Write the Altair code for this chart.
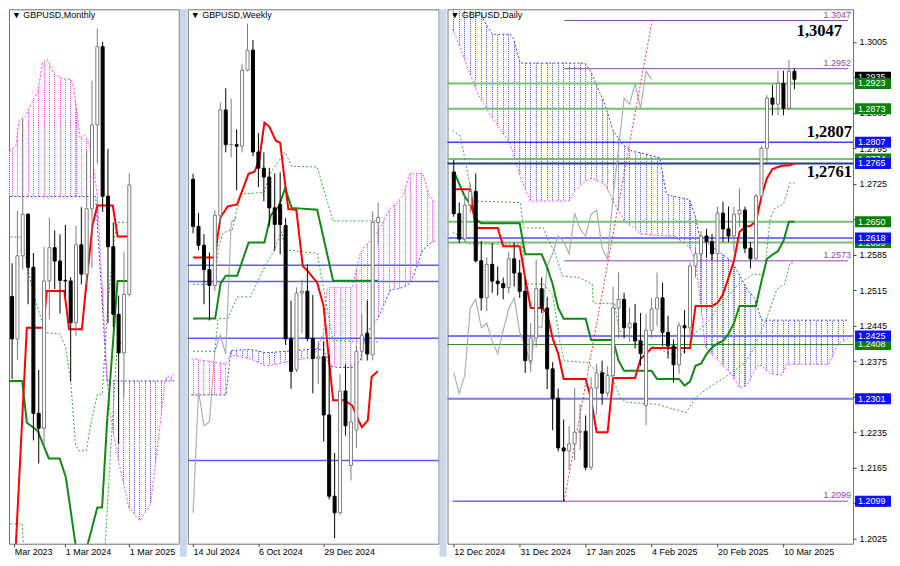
import math
import altair as alt
import pandas as pd

# ======================= DATA =======================
# ---------- Monthly GBPUSD: bar 0 = Apr 2023 ... bar 23 = Mar 2025 ----------
m_open  = [1.2337,1.2573,1.2437,1.2704,1.2837,1.2667,1.2198,1.2150,1.2623,1.2730,1.2687,1.2625,1.2623,1.2489,1.2739,1.2645,1.2855,1.3124,1.3375,1.2895,1.2733,1.2516,1.2392,1.2580]
m_high  = [1.2584,1.2680,1.2849,1.3142,1.2841,1.2713,1.2337,1.2733,1.2827,1.2785,1.2773,1.2803,1.2635,1.2801,1.2860,1.3044,1.3266,1.3434,1.3391,1.3048,1.2811,1.2576,1.2715,1.2969]
m_low   = [1.2275,1.2308,1.2369,1.2659,1.2548,1.2111,1.2037,1.2096,1.2500,1.2597,1.2518,1.2575,1.2300,1.2446,1.2612,1.2615,1.2665,1.3001,1.2845,1.2487,1.2475,1.2099,1.2249,1.2573]
m_close = [1.2573,1.2437,1.2704,1.2837,1.2667,1.2198,1.2150,1.2623,1.2730,1.2687,1.2625,1.2623,1.2489,1.2739,1.2645,1.2855,1.3124,1.3375,1.2895,1.2733,1.2516,1.2392,1.2580,1.2931]
m_ticks = [1.4, 11, 23]
m_tick_labels = ["Mar 2023", "1 Mar 2024", "1 Mar 2025"]
m_tenkan_x = [1.6, 3.77, 6.9, 7.5, 10.8, 11.7, 14.1, 14.96, 16.1, 17.0, 19.9, 20.8, 23.0]
m_tenkan_y = [1.1740, 1.2473, 1.2473, 1.2591, 1.2591, 1.2468, 1.2468, 1.2616, 1.2801, 1.2865, 1.2865, 1.2766, 1.2766]
m_kijun_x = [-0.05, 2.9, 3.77, 5.8, 7.9, 9.94, 11.1, 12.9, 13.3, 14.8, 15.2, 17.0, 17.9, 18.8, 20.8, 23.0]
m_kijun_y = [1.2302, 1.2302, 1.2168, 1.2142, 1.2053, 1.2053, 1.1992, 1.1778, 1.1700, 1.1700, 1.1778, 1.1896, 1.1896, 1.2163, 1.2623, 1.2623]
m_dot1_x = [-0.05, 3.0, 3.5, 5.2, 7.3, 9.94, 11.1, 12.0, 12.9, 13.5, 14.95, 15.8, 17.0, 17.9, 19.0, 20.2, 20.8, 22.6]
m_dot1_y = [1.2764, 1.2764, 1.2698, 1.2569, 1.2457, 1.2453, 1.2409, 1.2302, 1.2099, 1.2078, 1.2078, 1.2164, 1.2259, 1.2259, 1.2550, 1.2762, 1.2811, 1.2811]
m_dot2_x = [-0.05, 2.9, 3.3, 18.3, 19.35, 20.3, 20.8, 22.6]
m_dot2_y = [1.1843, 1.1843, 1.1720, 1.1720, 1.2036, 1.2300, 1.2424, 1.2424]
m_cloud_x = [-0.05, 1.71, 2.30, 3.48, 4.36, 5.83, 6.71, 7.59, 8.77, 10.53, 12.01, 12.59, 13.77, 14.65, 15.53, 16.41, 16.7, 17.0, 18.8, 19.4, 20.2, 21.1, 22.9, 24.95, 27.0, 27.9, 28.8, 29.7, 30.2, 30.8, 31.4]
m_span_a = [1.2894, 1.2894, 1.2894, 1.2894, 1.2894, 1.2894, 1.2894, 1.2894, 1.2894, 1.2894, 1.2894, 1.2894, 1.2894, 1.2894, 1.2894, 1.2894, 1.2894, 1.2809, 1.2302, 1.2302, 1.2302, 1.2302, 1.2302, 1.2302, 1.2302, 1.2302, 1.2302, 1.2302, 1.2302, 1.2302, 1.2302]
m_span_b = [1.3033, 1.3057, 1.3138, 1.3150, 1.3184, 1.3231, 1.3324, 1.3335, 1.3289, 1.3271, 1.3271, 1.3242, 1.3080, 1.3091, 1.3057, 1.2975, 1.2935, 1.2894, 1.2330, 1.2200, 1.2120, 1.2036, 1.1896, 1.1853, 1.1907, 1.2035, 1.2163, 1.2302, 1.2318, 1.2310, 1.2330]

# ---------- Weekly GBPUSD: bar 0 = week of 14 Jul 2024 ... bar 34 = week of 9 Mar 2025 ----------
w_open  = [1.3030,1.2908,1.2859,1.2796,1.2755,1.2937,1.3210,1.3120,1.3120,1.3116,1.3313,1.3365,1.3101,1.3059,1.3036,1.2956,1.2965,1.2910,1.2616,1.2537,1.2735,1.2740,1.2617,1.2565,1.2570,1.2419,1.2208,1.2165,1.2481,1.2288,1.2380,1.2584,1.2631,1.2575,1.2918]
w_high  = [1.3044,1.2943,1.2888,1.2840,1.2950,1.3230,1.3266,1.3239,1.3160,1.3330,1.3434,1.3391,1.3150,1.3100,1.3060,1.3045,1.3048,1.2930,1.2715,1.2750,1.2770,1.2810,1.2730,1.2610,1.2610,1.2575,1.2320,1.2525,1.2550,1.2550,1.2600,1.2680,1.2716,1.2947,1.2969]
w_low   = [1.2890,1.2846,1.2706,1.2664,1.2740,1.2915,1.3100,1.3087,1.3002,1.3100,1.3310,1.3090,1.3010,1.2973,1.2908,1.2845,1.2835,1.2600,1.2487,1.2530,1.2630,1.2610,1.2475,1.2500,1.2350,1.2200,1.2099,1.2160,1.2366,1.2249,1.2333,1.2560,1.2560,1.2560,1.2860]
w_close = [1.2908,1.2859,1.2796,1.2755,1.2937,1.3210,1.3120,1.3120,1.3116,1.3313,1.3365,1.3101,1.3059,1.3036,1.2956,1.2913,1.2913,1.2616,1.2532,1.2735,1.2740,1.2617,1.2565,1.2570,1.2419,1.2208,1.2165,1.2481,1.2391,1.2401,1.2584,1.2626,1.2577,1.2918,1.2931]
w_ticks = [0, 12, 24]
w_tick_labels = ["14 Jul 2024", "6 Oct 2024", "29 Dec 2024"]
w_tenkan_x = [0, 4.06, 4.5, 5.06, 6.35, 8.1, 10.2, 11.3, 12.2, 13.1, 14.0, 15.2, 16.0, 16.92, 17.5, 18.97, 20.15, 21.0, 22.8, 23.97, 24.55, 25.73, 27.8, 29.25, 30.4, 31.0, 32.1, 32.8, 33.95]
w_tenkan_y = [1.2827, 1.2827, 1.2880, 1.2932, 1.2960, 1.2965, 1.3045, 1.3050, 1.3083, 1.3177, 1.3167, 1.3130, 1.3125, 1.3017, 1.2953, 1.2951, 1.2805, 1.2793, 1.2762, 1.2702, 1.2620, 1.2457, 1.2457, 1.2443, 1.2405, 1.2387, 1.2405, 1.2518, 1.2532]
w_kijun_x = [0, 4.06, 5.06, 6.0, 8.1, 10.2, 13.1, 14.28, 15.75, 16.92, 18.1, 22.8, 25.73, 33.95]
w_kijun_y = [1.2669, 1.2669, 1.2760, 1.2780, 1.2780, 1.2866, 1.2866, 1.2937, 1.2960, 1.3007, 1.2956, 1.2951, 1.2767, 1.2767]
w_dot1_x = [0, 4.06, 4.6, 5.5, 7.2, 8.7, 13.0, 14.3, 16.9, 18.1, 22.8, 25.7, 33.95]
w_dot1_y = [1.2758, 1.2758, 1.2850, 1.2891, 1.2900, 1.2992, 1.2996, 1.3050, 1.3100, 1.3064, 1.3062, 1.2922, 1.2922]
w_dot2_x = [0, 4.0, 4.6, 6.35, 8.1, 10.5, 13.4, 14.6, 16.3, 16.9, 22.8, 24.0, 25.7, 33.95]
w_dot2_y = [1.2584, 1.2584, 1.2669, 1.2669, 1.2725, 1.2725, 1.2810, 1.2838, 1.2894, 1.2847, 1.2838, 1.2744, 1.2612, 1.2608]
w_cloud_x = [-0.3, 6.05, 6.93, 10.46, 13.4, 16.92, 22.2, 23.97, 24.55, 25.1, 26.9, 29.25, 30.7, 31.6, 32.77, 33.95, 35.1, 36.3, 37.5, 38.6, 39.8, 40.4, 42.2, 43.35, 44.4]
w_span_a = [1.2471, 1.2471, 1.2586, 1.2589, 1.2580, 1.2584, 1.2590, 1.2588, 1.2570, 1.2545, 1.2542, 1.2542, 1.2560, 1.2622, 1.2650, 1.2669, 1.2706, 1.2744, 1.2746, 1.2750, 1.2760, 1.2777, 1.2847, 1.2862, 1.2871]
w_span_b = [1.2565, 1.2551, 1.2575, 1.2565, 1.2546, 1.2555, 1.2570, 1.2631, 1.2744, 1.2749, 1.2749, 1.2749, 1.2838, 1.2857, 1.2875, 1.2894, 1.2925, 1.2956, 1.2970, 1.2989, 1.3045, 1.3045, 1.3045, 1.2989, 1.2970]
w_blue_levels = [1.2807, 1.2765, 1.2618, 1.2301]

# ---------- Daily GBPUSD: bar 0 = 12 Dec 2024 ... bar 62 = 12 Mar 2025 ----------
d_open  = [1.2748,1.2666,1.2616,1.2683,1.2710,1.2573,1.2500,1.2566,1.2533,1.2528,1.2520,1.2577,1.2549,1.2513,1.2376,1.2421,1.2518,1.2480,1.2360,1.2302,1.2204,1.2198,1.2212,1.2235,1.2237,1.2166,1.2322,1.2352,1.2312,1.2347,1.2480,1.2497,1.2441,1.2450,1.2415,1.2288,1.2436,1.2478,1.2500,1.2432,1.2405,1.2368,1.2445,1.2441,1.2563,1.2587,1.2622,1.2611,1.2587,1.2667,1.2636,1.2622,1.2665,1.2673,1.2598,1.2577,1.2701,1.2795,1.2894,1.2882,1.2923,1.2874,1.2947]
d_high  = [1.2772,1.2688,1.2703,1.2726,1.2745,1.2612,1.2580,1.2608,1.2562,1.2540,1.2590,1.2609,1.2575,1.2536,1.2450,1.2575,1.2540,1.2502,1.2373,1.2321,1.2260,1.2247,1.2322,1.2290,1.2268,1.2343,1.2370,1.2376,1.2365,1.2522,1.2550,1.2510,1.2481,1.2488,1.2470,1.2468,1.2500,1.2550,1.2530,1.2465,1.2418,1.2452,1.2476,1.2570,1.2600,1.2632,1.2636,1.2626,1.2680,1.2690,1.2680,1.2680,1.2716,1.2680,1.2610,1.2705,1.2800,1.2900,1.2920,1.2948,1.2948,1.2969,1.2952]
d_low   = [1.2660,1.2608,1.2610,1.2668,1.2570,1.2475,1.2474,1.2510,1.2505,1.2497,1.2509,1.2522,1.2500,1.2352,1.2354,1.2402,1.2470,1.2320,1.2239,1.2197,1.2099,1.2160,1.2180,1.2200,1.2160,1.2160,1.2270,1.2289,1.2305,1.2340,1.2420,1.2420,1.2414,1.2400,1.2366,1.2249,1.2420,1.2445,1.2405,1.2380,1.2333,1.2350,1.2390,1.2420,1.2540,1.2560,1.2580,1.2575,1.2570,1.2610,1.2610,1.2590,1.2640,1.2588,1.2558,1.2575,1.2690,1.2767,1.2860,1.2860,1.2860,1.2870,1.2912]
d_close = [1.2666,1.2616,1.2683,1.2710,1.2573,1.2500,1.2566,1.2533,1.2528,1.2520,1.2577,1.2549,1.2513,1.2376,1.2421,1.2518,1.2480,1.2360,1.2302,1.2204,1.2198,1.2212,1.2235,1.2237,1.2166,1.2322,1.2352,1.2312,1.2347,1.2480,1.2497,1.2441,1.2450,1.2415,1.2390,1.2436,1.2478,1.2500,1.2432,1.2405,1.2368,1.2445,1.2441,1.2563,1.2587,1.2622,1.2611,1.2587,1.2667,1.2636,1.2622,1.2665,1.2673,1.2598,1.2577,1.2701,1.2795,1.2894,1.2882,1.2923,1.2874,1.2947,1.2931]
d_tenkan = [1.2714,1.2714,1.2714,1.2714,1.2638,1.2638,1.2638,1.2638,1.2638,1.2602,1.2602,1.2602,1.2602,1.2539,1.2480,1.2480,1.2480,1.2470,1.2420,1.2390,1.2340,1.2340,1.2340,1.2340,1.2340,1.2300,1.2235,1.2235,1.2235,1.2342,1.2342,1.2342,1.2342,1.2342,1.2380,1.2390,1.2401,1.2401,1.2401,1.2401,1.2401,1.2401,1.2401,1.2401,1.2484,1.2484,1.2484,1.2484,1.2490,1.2507,1.2540,1.2573,1.2630,1.2640,1.2642,1.2651,1.2700,1.2736,1.2754,1.2758,1.2761,1.2761,1.2765]
d_kijun = [1.2750,1.2725,1.2700,1.2685,1.2655,1.2647,1.2647,1.2647,1.2647,1.2647,1.2647,1.2647,1.2647,1.2586,1.2586,1.2586,1.2586,1.2560,1.2527,1.2480,1.2459,1.2459,1.2459,1.2459,1.2459,1.2417,1.2417,1.2417,1.2417,1.2417,1.2376,1.2356,1.2356,1.2356,1.2356,1.2356,1.2356,1.2340,1.2340,1.2340,1.2340,1.2340,1.2327,1.2335,1.2366,1.2370,1.2389,1.2402,1.2410,1.2415,1.2429,1.2450,1.2484,1.2484,1.2484,1.2484,1.2533,1.2577,1.2585,1.2592,1.2612,1.2650,1.2650]
d_dot1_x = [-0.23, 1.2, 3.5, 12.1, 12.7, 16.3, 17.1, 18.3, 19.8, 22.8, 25.2, 25.4, 29.3, 30.1, 34.5, 41.1, 44.0, 46.5, 48.0, 52.0, 54.6, 56.5, 57.6, 58.5, 60.0, 61.2, 62.0]
d_dot1_y = [1.2830, 1.2819, 1.2691, 1.2688, 1.2638, 1.2638, 1.2616, 1.2592, 1.2543, 1.2540, 1.2527, 1.2490, 1.2488, 1.2435, 1.2412, 1.2382, 1.2431, 1.2455, 1.2480, 1.2529, 1.2547, 1.2545, 1.2657, 1.2677, 1.2685, 1.2726, 1.2726]
d_dot2_x = [-0.23, 3.0, 12.5, 13.0, 16.3, 18.0, 19.4, 20.1, 24.5, 25.5, 28.7, 30.4, 31.6, 37.0, 39.9, 42.3, 44.0, 46.0, 49.7, 53.0, 54.7, 55.6, 57.0, 58.8, 60.2, 61.2, 62.0]
d_dot2_y = [1.2630, 1.2606, 1.2606, 1.2527, 1.2527, 1.2507, 1.2409, 1.2376, 1.2372, 1.2360, 1.2346, 1.2301, 1.2294, 1.2290, 1.2281, 1.2274, 1.2303, 1.2320, 1.2346, 1.2372, 1.2402, 1.2427, 1.2461, 1.2517, 1.2527, 1.2569, 1.2569]
d_cloud_x = [-0.23, 0.5, 3.5, 4.4, 5.6, 7.0, 10.3, 10.9, 12.1, 13.9, 21.0, 22.0, 23.9, 25.0, 25.4, 27.5, 29.0, 30.7, 31.0, 32.5, 34.0, 37.5, 38.7, 40.0, 42.9, 44.0, 44.6, 45.8, 46.4, 50.5, 52.0, 52.9, 53.5, 54.7, 55.6, 56.1, 57.6, 59.8, 60.5, 68.2, 70.0, 71.8]
d_span_a = [1.3120,1.3115,1.3090,1.3070,1.3045,1.3020,1.3020,1.3010,1.2963,1.2963,1.2963,1.2963,1.2963,1.2945,1.2934,1.2882,1.2830,1.2803,1.2800,1.2789,1.2786,1.2776,1.2704,1.2700,1.2694,1.2660,1.2626,1.2612,1.2606,1.2573,1.2545,1.2527,1.2515,1.2500,1.2470,1.2456,1.2456,1.2456,1.2456,1.2456,1.2456,1.2456]
d_span_b = [1.3030,1.3012,1.2927,1.2902,1.2880,1.2855,1.2803,1.2780,1.2740,1.2691,1.2691,1.2711,1.2730,1.2736,1.2735,1.2724,1.2690,1.2660,1.2651,1.2640,1.2626,1.2623,1.2622,1.2622,1.2600,1.2573,1.2520,1.2402,1.2395,1.2350,1.2323,1.2325,1.2330,1.2355,1.2369,1.2365,1.2350,1.2348,1.2369,1.2369,1.2410,1.2420]
d_ticks = [0, 12, 24, 36, 48, 60]
d_tick_labels = ["12 Dec 2024", "31 Dec 2024", "17 Jan 2025", "4 Feb 2025", "20 Feb 2025", "10 Mar 2025"]
d_price_ticks = [1.2025, 1.2095, 1.2165, 1.2235, 1.2305, 1.2375, 1.2445, 1.2515, 1.2585, 1.2655, 1.2725, 1.2795, 1.2865, 1.2935, 1.3005, 1.3075]
d_green_levels = [1.2923, 1.2873, 1.2774, 1.2650, 1.2609]
d_green_thin_levels = [1.2408]
d_blue_levels = [1.2618, 1.2425, 1.2301]
d_blue_mid_levels = [1.2807]
d_navy_levels = [1.2765]
d_purple_levels = [1.3047, 1.2952, 1.2573, 1.2099]
d_purple_from = 20.1
d_blue_low_level = [1.2099]
d_red_dot_x = [20.1, 36.1]
d_red_dot_y = [1.2099, 1.3047]
d_box_black = [1.2935]
d_box_green = [1.2923, 1.2873, 1.2774, 1.2650, 1.2609, 1.2408]
d_box_blue = [1.2807, 1.2765, 1.2618, 1.2425, 1.2301, 1.2099]
d_note_text = ["1,3047", "1,2807", "1,2761"]
d_note_level = [1.3047, 1.2807, 1.2765]

# ======================= LAYOUT =======================
H = 535
W_M, W_W, W_D = 170, 251, 406
M_XDOM, M_YDOM = [1.359, 31.357], [1.17794, 1.34953]
W_XDOM, W_YDOM = [-0.053, 44.17], [1.2085, 1.3471]
D_XDOM, D_YDOM = [-0.23, 71.76], [1.20151, 1.30691]
FONT = "Liberation Sans"


def label_expr(vals, labs):
    expr = "''"
    for v, l in reversed(list(zip(vals, labs))):
        expr = f"datum.value == {v} ? '{l}' : {expr}"
    return expr


def encoders(xdom, ydom, xticks, xlabels, yaxis):
    xs = alt.Scale(domain=xdom, nice=False, zero=False)
    ys = alt.Scale(domain=ydom, nice=False, zero=False)
    xaxis = alt.Axis(values=xticks, labelExpr=label_expr(xticks, xlabels), labelAlign="left",
                     labelPadding=1, tickSize=3, labelFlush=False, labelOverlap=False,
                     labelBound=False, title=None, grid=False, domain=False,
                     labelFontSize=9, labelFont=FONT, tickColor="#444")

    def X(f):
        return alt.X(f, type="quantitative", scale=xs, axis=xaxis)

    def Y(f):
        return alt.Y(f, type="quantitative", scale=ys, axis=yaxis)
    return X, Y


def candles(o, h, l, c, X, Y):
    df = pd.DataFrame({"i": list(range(len(o))), "o": o, "h": h, "l": l, "c": c})
    up = "datum.c >= datum.o"
    wick = alt.Chart(df).mark_rule(strokeWidth=1, clip=True).encode(
        x=X("i"), y=Y("l"), y2=alt.Y2("h"),
        color=alt.condition(up, alt.value("#7c7c7c"), alt.value("#000000")))
    body = alt.Chart(df).mark_bar(size=3, strokeWidth=1, clip=True, orient="vertical").encode(
        x=X("i"), y=Y("o"), y2=alt.Y2("c"),
        fill=alt.condition(up, alt.value("#ffffff"), alt.value("#000000")),
        stroke=alt.condition(up, alt.value("#7c7c7c"), alt.value("#000000")))
    return [wick, body]


def line(xv, yv, X, Y, color, width, dash=None):
    df = pd.DataFrame({"x": xv, "y": yv})
    kw = dict(color=color, strokeWidth=width, clip=True)
    if dash:
        kw["strokeDash"] = dash
    return alt.Chart(df).mark_line(**kw).encode(x=X("x"), y=Y("y"))


def hrules(levels, Y, W, color, width):
    return alt.Chart(pd.DataFrame({"v": levels})).mark_rule(color=color, strokeWidth=width).encode(
        y=Y("v"), x=alt.value(0), x2=alt.value(W))


def hrules_span(levels, x0, x1, X, Y, color, width):
    df = pd.DataFrame({"v": levels, "a": [x0] * len(levels), "b": [x1] * len(levels)})
    return alt.Chart(df).mark_rule(color=color, strokeWidth=width, clip=True).encode(
        y=Y("v"), x=X("a"), x2=alt.X2("b"))


CLEAR = "rgba(255,255,255,0)"


def stripes(rgba, x0, x1, lw_bars):
    """vertical stripes, one per bar (style only)"""
    span = x1 - x0
    half = lw_bars / 2.0 / span
    stops = [(0.0, CLEAR)]
    for k in range(math.ceil(x0), math.floor(x1) + 1):
        c = (k - x0) / span
        lo, hi = max(0.0, c - half), min(1.0, c + half)
        stops += [(lo, CLEAR), (lo, rgba), (hi, rgba), (hi, CLEAR)]
    stops.append((1.0, CLEAR))
    return {"gradient": "linear", "x1": 0, "y1": 0, "x2": 1, "y2": 0,
            "stops": [{"offset": round(o, 6), "color": col} for o, col in stops]}


def dots_mask(height_px, period=2.0):
    """horizontal white stripes that turn the vertical stripes into dotted lines"""
    n = max(1, int(height_px / period))
    stops = []
    for k in range(n):
        a = k / n
        m = (k + 0.5) / n
        b = (k + 1) / n
        stops += [(a, "rgba(255,255,255,0.8)"), (m, "rgba(255,255,255,0.8)"), (m, CLEAR), (b, CLEAR)]
    return {"gradient": "linear", "x1": 0, "y1": 0, "x2": 0, "y2": 1,
            "stops": [{"offset": round(o, 6), "color": col} for o, col in stops]}


def cloud(cx, ca, cb, X, Y, ppb, ppu):
    n = len(cx)
    sign = [a >= b for a, b in zip(ca, cb)]
    runs, cur = [], [0]
    for k in range(1, n):
        cur.append(k)
        if sign[k] != sign[k - 1]:
            runs.append((sign[k - 1], cur))
            cur = [k - 1, k]
    runs.append((sign[n - 1], cur))
    layers = []
    for blue, idx in runs:
        xs_ = [cx[k] for k in idx]
        av = [ca[k] for k in idx]
        bv = [cb[k] for k in idx]
        df = pd.DataFrame({"x": xs_, "a": av, "b": bv})
        col = "rgba(70,70,255,0.8)" if blue else "rgba(255,40,255,0.8)"
        grad = stripes(col, min(xs_), max(xs_), 1.1 / ppb)
        layers.append(alt.Chart(df).mark_area(fill=grad, fillOpacity=1, clip=True).encode(
            x=X("x"), y=Y("a"), y2=alt.Y2("b")))
        hpx = (max(av + bv) - min(av + bv)) * ppu
        layers.append(alt.Chart(df).mark_area(fill=dots_mask(hpx), fillOpacity=1, clip=True).encode(
            x=X("x"), y=Y("a"), y2=alt.Y2("b")))
    layers.append(line(cx, ca, X, Y, "#3b3bff", 1, [2, 2]))
    layers.append(line(cx, cb, X, Y, "#ff3bff", 1, [2, 2]))
    return layers


def title(text):
    return alt.Chart(pd.DataFrame({"t": [text]})).mark_text(
        align="left", baseline="top", fontSize=9, font=FONT, color="black").encode(
        text="t:N", x=alt.value(3), y=alt.value(2))


def separator(W):
    return alt.Chart(pd.DataFrame({"k": [0]})).mark_rect(color="#c9d7ea").encode(
        x=alt.value(W + 1), x2=alt.value(W + 8), y=alt.value(0), y2=alt.value(H + 13))


def boxes(levels, Y, W, fill):
    df = pd.DataFrame({"v": levels})
    box = alt.Chart(df).mark_tick(orient="horizontal", thickness=11, size=36, color=fill, opacity=1).encode(
        y=Y("v"), x=alt.value(W + 20))
    txt = alt.Chart(df).mark_text(align="left", baseline="middle", fontSize=9, font=FONT, color="white").encode(
        y=Y("v"), x=alt.value(W + 5), text=alt.Text("v:Q", format=".4f"))
    return [box, txt]


GREEN, RED = "#108a10", "#ff0000"
DOTG = "#3aa53a"

# ---------------- Monthly panel ----------------
Xm, Ym = encoders(M_XDOM, M_YDOM, m_ticks, m_tick_labels, None)
m_layers = []
m_layers += cloud(m_cloud_x, m_span_a, m_span_b, Xm, Ym,
                  W_M / (M_XDOM[1] - M_XDOM[0]), H / (M_YDOM[1] - M_YDOM[0]))
m_layers += [
    line(m_dot1_x, m_dot1_y, Xm, Ym, DOTG, 1, [2, 2]),
    line(m_dot2_x, m_dot2_y, Xm, Ym, DOTG, 1, [2, 2]),
    line(m_kijun_x, m_kijun_y, Xm, Ym, GREEN, 2),
    line(m_tenkan_x, m_tenkan_y, Xm, Ym, RED, 2),
]
m_layers += candles(m_open, m_high, m_low, m_close, Xm, Ym)
m_layers += [title("\u25bc GBPUSD,Monthly"), separator(W_M)]
monthly = alt.layer(*m_layers).properties(width=W_M, height=H)

# ---------------- Weekly panel ----------------
Xw, Yw = encoders(W_XDOM, W_YDOM, w_ticks, w_tick_labels, None)
w_layers = []
w_layers += cloud(w_cloud_x, w_span_a, w_span_b, Xw, Yw,
                  W_W / (W_XDOM[1] - W_XDOM[0]), H / (W_YDOM[1] - W_YDOM[0]))
w_layers.append(hrules(w_blue_levels, Yw, W_W, "#5b5bff", 1.5))
w_chik_x = [i - 26 for i in range(26, len(w_close))]
w_layers += [
    line(w_chik_x, w_close[26:], Xw, Yw, "#a9b0b8", 1.2),
    line(w_dot1_x, w_dot1_y, Xw, Yw, DOTG, 1, [2, 2]),
    line(w_dot2_x, w_dot2_y, Xw, Yw, DOTG, 1, [2, 2]),
    line(w_kijun_x, w_kijun_y, Xw, Yw, GREEN, 2),
    line(w_tenkan_x, w_tenkan_y, Xw, Yw, RED, 2),
]
w_layers += candles(w_open, w_high, w_low, w_close, Xw, Yw)
w_layers += [title("\u25bc GBPUSD,Weekly"), separator(W_W)]
weekly = alt.layer(*w_layers).properties(width=W_W, height=H)

# ---------------- Daily panel ----------------
d_yaxis = alt.Axis(orient="right", values=d_price_ticks, format=".4f", tickSize=3, labelPadding=3,
                   labelFlush=False, labelOverlap=False, domain=False, grid=False, title=None,
                   labelFontSize=9, labelFont=FONT, tickColor="#444")
Xd, Yd = encoders(D_XDOM, D_YDOM, d_ticks, d_tick_labels, d_yaxis)
d_layers = []
d_layers += cloud(d_cloud_x, d_span_a, d_span_b, Xd, Yd,
                  W_D / (D_XDOM[1] - D_XDOM[0]), H / (D_YDOM[1] - D_YDOM[0]))
d_layers += [
    hrules(d_green_levels, Yd, W_D, "#74c174", 2),
    hrules(d_green_thin_levels, Yd, W_D, "#2e8b2e", 1),
    hrules(d_blue_levels, Yd, W_D, "#7878ff", 2),
    hrules(d_blue_mid_levels, Yd, W_D, "#3c3cff", 1.5),
    hrules(d_navy_levels, Yd, W_D, "#1c3c8c", 2),
    hrules_span(d_blue_low_level, D_XDOM[0], d_purple_from, Xd, Yd, "#2020ff", 1),
    hrules_span(d_purple_levels, d_purple_from, D_XDOM[1], Xd, Yd, "#8e44ad", 1),
]
d_chik_x = [i - 26 for i in range(26, len(d_close))]
d_ix = list(range(len(d_close)))
d_layers += [
    line(d_chik_x, d_close[26:], Xd, Yd, "#a9b0b8", 1.2),
    line(d_dot1_x, d_dot1_y, Xd, Yd, DOTG, 1, [2, 2]),
    line(d_dot2_x, d_dot2_y, Xd, Yd, DOTG, 1, [2, 2]),
    line(d_ix, d_kijun, Xd, Yd, GREEN, 2),
    line(d_ix, d_tenkan, Xd, Yd, RED, 2),
    line(d_red_dot_x, d_red_dot_y, Xd, Yd, "#ff3030", 1, [2, 2]),
]
d_layers += candles(d_open, d_high, d_low, d_close, Xd, Yd)

# purple level captions
d_layers.append(alt.Chart(pd.DataFrame({"v": d_purple_levels})).mark_text(
    align="right", baseline="bottom", dy=-1, fontSize=9, font=FONT, color="#8e44ad").encode(
    y=Yd("v"), x=alt.value(W_D - 2), text=alt.Text("v:Q", format=".4f")))

# bold notes
note_df = pd.DataFrame({"t": d_note_text, "v": d_note_level})
bold = dict(font="Liberation Serif", fontWeight="bold", fontSize=16.5, color="black", align="right")
d_layers.append(alt.Chart(note_df.iloc[[0]]).mark_text(baseline="top", dy=3, **bold).encode(
    y=Yd("v"), x=alt.value(W_D - 11), text="t:N"))
d_layers.append(alt.Chart(note_df.iloc[[1]]).mark_text(baseline="bottom", dy=-2, **bold).encode(
    y=Yd("v"), x=alt.value(W_D - 1), text="t:N"))
d_layers.append(alt.Chart(note_df.iloc[[2]]).mark_text(baseline="top", dy=1, **bold).encode(
    y=Yd("v"), x=alt.value(W_D - 1), text="t:N"))

d_layers += boxes(d_box_black, Yd, W_D, "#000000")
d_layers += boxes(d_box_green, Yd, W_D, "#0a800a")
d_layers += boxes(d_box_blue, Yd, W_D, "#0f0fff")
d_layers.append(title("\u25bc GBPUSD,Daily"))
daily = alt.layer(*d_layers).properties(width=W_D, height=H)

chart = alt.hconcat(monthly, weekly, daily, spacing=9, bounds="flush").properties(
    padding=0, background="white"
).configure_view(stroke="#707070", strokeWidth=1)

chart.save("out.html", embed_options={"renderer": "svg", "actions": False})
